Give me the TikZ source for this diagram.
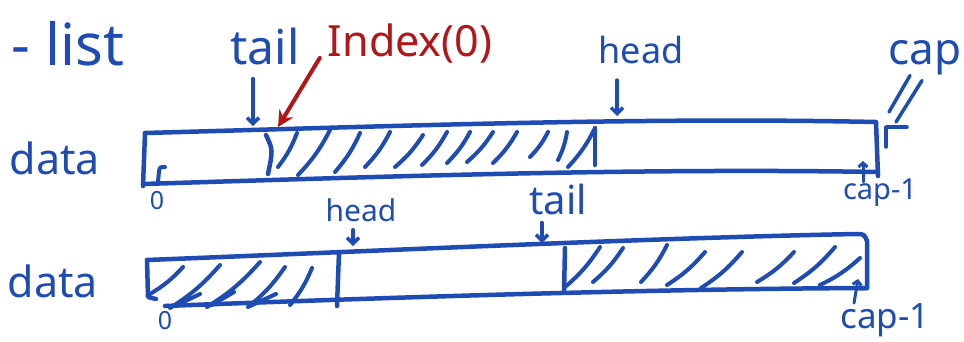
\documentclass[tikz,border=0pt]{standalone}
\usepackage{fontspec}
\setmainfont{Noto Sans}
\usetikzlibrary{arrows.meta}
\definecolor{ink}{RGB}{30,76,180}
\definecolor{redink}{RGB}{178,22,24}
\begin{document}
\begin{tikzpicture}[x=1pt,y=-1pt,line cap=round,line join=round,
  pen/.style={draw=ink,line width=4.5pt},
  hatch/.style={draw=ink,line width=4pt},
  lbl/.style={text=ink,inner sep=0pt},
  ptr/.style={draw=ink,line width=3.5pt,-{Straight Barb[length=6pt,width=12pt,line width=3.5pt]}},
  fs/.style={font=\fontsize{#1}{#1}\selectfont}]
\fill[white] (0,0) rectangle (964,341);
\useasboundingbox (0,0) rectangle (964,341);

% labels
\node[lbl,fs=58] (list) at (68,44) {- list};
\node[lbl,fs=43] (data1) at (55,158) {data};
\node[lbl,fs=43] (data2) at (53,281) {data};
\node[lbl,fs=48] (tailT) at (265,46) {tail};
\node[lbl,fs=43,text=redink] (idx) at (410,44) {Index(0)};
\node[lbl,fs=36] (headT) at (641,50) {head};
\node[lbl,fs=44] (cap) at (925,58) {cap};
\node[lbl,fs=29] (capA) at (880,193) {cap-1};
\node[lbl,fs=25] (zeroA) at (157,201) {0};
\node[lbl,fs=30] (headB) at (361,210) {head};
\node[lbl,fs=40] (tailB) at (558,199) {tail};
\node[lbl,fs=35] (capB) at (885,320) {cap-1};
\node[lbl,fs=25] (zeroB) at (165,321) {0};

% top array
\draw[pen] (145,133) .. controls (400,126) and (640,117) .. (876,122) -- (878,176);
\draw[pen] (143,184) .. controls (400,176) and (640,168) .. (878,172);
\draw[pen] (145,133) -- (143,186);
\draw[pen] (266,135) .. controls (273,150) .. (268,174);
\draw[pen] (595,128) -- (595,165);
\draw[hatch] (158,182) -- (159,171) .. controls (160,167) .. (165,167);
\foreach \xa/\ya/\xb/\yb in {278/167/297/133, 298/175/330/130, 335/172/360/133, 365/167/390/132,
  395/167/423/135, 422/165/447/132, 447/163/470/132, 467/162/493/132, 493/163/517/132,
  530/157/548/132, 558/160/567/132, 568/167/595/128}
  \draw[hatch] (\xa,\ya) to[bend right=8] (\xb,\yb);

% bottom array
\draw[pen] (147,260) .. controls (400,250) and (650,238) .. (856,234)
  .. controls (864,234) .. (867,241) -- (867,288) -- (856,288);
\draw[pen] (165,306) .. controls (400,297) and (650,289) .. (867,288);
\draw[pen] (147,260) -- (148,297) -- (156,299);
\draw[pen] (339,252) -- (337,306);
\draw[pen] (565,248) -- (564,292);
\foreach \xa/\ya/\xb/\yb in {150/294/183/267, 170/308/220/265, 207/307/260/262,
  248/307/285/267, 290/305/312/268,
  565/287/600/247, 593/282/623/248, 641/282/667/245, 667/285/705/252,
  701/288/742/252, 757/282/794/252, 794/283/835/247, 820/285/860/258}
  \draw[hatch] (\xa,\ya) to[bend right=8] (\xb,\yb);
\draw[hatch] (175,306) -- (200,294);
\draw[hatch] (212,305) -- (234,292);
\draw[hatch] (250,306) -- (276,294);

% pointers
\coordinate (tailTipA) at (253,126);
\draw[ptr] (tailT.south -| tailTipA) ++(0,14) -- (tailTipA);
\coordinate (idxTip) at (278,127);
\draw[draw=redink,line width=4pt,-{Stealth[length=16pt,width=16pt]}] (idx.south west) ++(-8,-6) -- (idxTip);
\coordinate (headTipA) at (617,116);
\draw[ptr] (headT.south -| headTipA) ++(0,16) -- (headTipA);
\coordinate (capTip) at (886,127);
\draw[draw=ink,line width=3.5pt] (cap.south) ++(-15,0) -- ([shift={(3,-15)}]capTip);
\draw[draw=ink,line width=3.5pt] (cap.south) ++(-3,5) -- ([shift={(10,-5)}]capTip);
\draw[draw=ink,line width=3.5pt] ([yshift=-20]capTip) -- (capTip) -- ([xshift=21]capTip);
\coordinate (capTipA) at (863,161);
\draw[draw=ink,line width=3pt,-{Straight Barb[length=4pt,width=9pt,line width=3pt]}] (capA.north -| capTipA) ++(0,3) -- (capTipA);
\coordinate (headTipB) at (353,246);
\draw[ptr] (headB.south -| headTipB) ++(0,8) -- (headTipB);
\coordinate (tailTipB) at (542,243);
\draw[ptr] (tailB.south -| tailTipB) ++(0,8) -- (tailTipB);
\coordinate (capTipB) at (858,279);
\draw[draw=ink,line width=3pt,-{Straight Barb[length=4pt,width=9pt,line width=3pt]}] (capB.north -| capTipB) ++(-4,0) -- (capTipB);
\end{tikzpicture}
\end{document}
